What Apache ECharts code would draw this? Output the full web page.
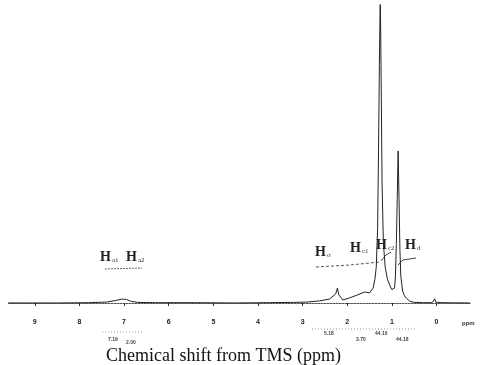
<!DOCTYPE html>
<html>
<head>
<meta charset="utf-8">
<script src="https://cdn.jsdelivr.net/npm/echarts@6/dist/echarts.min.js"></script>
<style>
  html, body { margin: 0; padding: 0; background: #fff; }
  #chart { width: 480px; height: 365px; }
</style>
</head>
<body>
<div id="chart"></div>
<script>
// chemical shift (ppm) and intensity
const shiftPpm = [9.6, 8.5, 7.8, 7.4, 7.2, 7.05, 6.95, 6.85, 6.7, 6.3, 5.5, 4.5, 3.8, 3.2,
  2.9, 2.62, 2.4, 2.26, 2.22, 2.19, 2.1, 1.95, 1.77, 1.61, 1.5, 1.42, 1.38, 1.35, 1.32, 1.3,
  1.28, 1.26, 1.24, 1.22, 1.19, 1.15, 1.1, 1.05, 1.0, 0.97, 0.94, 0.92, 0.9, 0.88, 0.86,
  0.84, 0.82, 0.8, 0.76, 0.72, 0.67, 0.6, 0.5, 0.3, 0.1, 0.06, 0.04, 0.02, -0.1, -0.75]
const intensity = [0, 0, 0.1, 0.3, 0.8, 1.3, 1.2, 0.6, 0.2, 0.1, 0.1, 0, 0.1, 0.2,
  0.3, 0.7, 1.3, 3, 5, 2.8, 1, 1.7, 2.7, 3.7, 3.4, 5, 8, 12, 25, 50,
  80, 104, 75, 40, 20, 12, 8, 6, 4.5, 4, 5, 9, 20, 35, 51,
  35, 18, 9, 4, 2.5, 1.5, 0.6, 0.2, 0.1, 0.1, 0.3, 1.4, 0.3, 0.1, 0]

const tickPpm = [9, 8, 7, 6, 5, 4, 3, 2, 1, 0]

// integral values printed under the axis (hard to read in the source)
const integralText = ['7.19', '2.00', '5.18', '3.70', '44.10', '44.18']

const chart = echarts.init(document.getElementById('chart'))

const serif = '"Liberation Serif", "DejaVu Serif", serif'
const hLabel = function (sub) {
  return {
    text: '{h|H}{s|' + sub + '}',
    rich: {
      h: { fontFamily: serif, fontSize: 14, fontWeight: 'bold', fill: '#222', verticalAlign: 'bottom' },
      s: { fontFamily: serif, fontSize: 7, fill: '#333', verticalAlign: 'bottom', padding: [0, 0, 0, 1] }
    }
  }
}

chart.setOption({
  animation: false,
  backgroundColor: '#fff',
  title: {
    text: 'Chemical shift from TMS (ppm)',
    left: 101,
    top: 342,
    textStyle: {
      fontFamily: serif,
      fontWeight: 'normal',
      fontSize: 18,
      color: '#111'
    }
  },
  grid: {
    left: 8,
    right: 10,
    top: 5,
    bottom: 51
  },
  xAxis: {
    type: 'value',
    inverse: true,
    min: -0.75,
    max: 9.6,
    axisLine: {
      lineStyle: { color: '#555', width: 1, type: [2, 1] }
    },
    axisTick: {
      customValues: tickPpm,
      length: 3,
      lineStyle: { color: '#222' }
    },
    axisLabel: {
      customValues: tickPpm,
      margin: 5,
      fontSize: 7,
      fontWeight: 'bold',
      color: '#222'
    },
    splitLine: { show: false }
  },
  yAxis: {
    type: 'value',
    min: -3.7,
    max: 100,
    show: false
  },
  graphic: [
    { type: 'text', left: 462, top: 320, style: { text: 'ppm', fontSize: 6, fontWeight: 'bold', fill: '#333' } },
    Object.assign({ type: 'text', left: 100, top: 250 }, { style: hLabel('a1') }),
    Object.assign({ type: 'text', left: 126, top: 250 }, { style: hLabel('a2') }),
    Object.assign({ type: 'text', left: 315, top: 245 }, { style: hLabel('σ') }),
    Object.assign({ type: 'text', left: 350, top: 241 }, { style: hLabel('c1') }),
    Object.assign({ type: 'text', left: 376, top: 238 }, { style: hLabel('c2') }),
    Object.assign({ type: 'text', left: 405, top: 238 }, { style: hLabel('d') }),
    { type: 'polyline', shape: { points: [[105, 269], [142, 268]] }, style: { stroke: '#666', lineWidth: 1, lineDash: [2, 1] } },
    { type: 'polyline', shape: { points: [[316, 267], [350, 265], [380, 262]] }, style: { stroke: '#555', lineWidth: 1, lineDash: [3, 2] } },
    { type: 'polyline', shape: { points: [[381, 261], [386, 255], [391, 252]] }, style: { stroke: '#444', lineWidth: 1 } },
    { type: 'polyline', shape: { points: [[398, 265], [403, 260], [416, 258]] }, style: { stroke: '#444', lineWidth: 1 } },
    { type: 'polyline', shape: { points: [[102, 332], [143, 332]] }, style: { stroke: '#999', lineWidth: 1, lineDash: [1, 2] } },
    { type: 'polyline', shape: { points: [[312, 329], [415, 329]] }, style: { stroke: '#999', lineWidth: 1, lineDash: [1, 2] } },
    { type: 'text', left: 108, top: 337, style: { text: integralText[0], fontSize: 5, fontWeight: 'bold', fill: '#444' } },
    { type: 'text', left: 126, top: 340, style: { text: integralText[1], fontSize: 5, fontWeight: 'bold', fill: '#444' } },
    { type: 'text', left: 324, top: 331, style: { text: integralText[2], fontSize: 5, fontWeight: 'bold', fill: '#444' } },
    { type: 'text', left: 356, top: 337, style: { text: integralText[3], fontSize: 5, fontWeight: 'bold', fill: '#444' } },
    { type: 'text', left: 375, top: 331, style: { text: integralText[4], fontSize: 5, fontWeight: 'bold', fill: '#444' } },
    { type: 'text', left: 396, top: 337, style: { text: integralText[5], fontSize: 5, fontWeight: 'bold', fill: '#444' } }
  ],
  series: [{
    type: 'line',
    data: shiftPpm.map(function (p, i) { return [p, intensity[i]] }),
    showSymbol: false,
    smooth: false,
    lineStyle: { color: '#222', width: 1 }
  }]
})
</script>
</body>
</html>
